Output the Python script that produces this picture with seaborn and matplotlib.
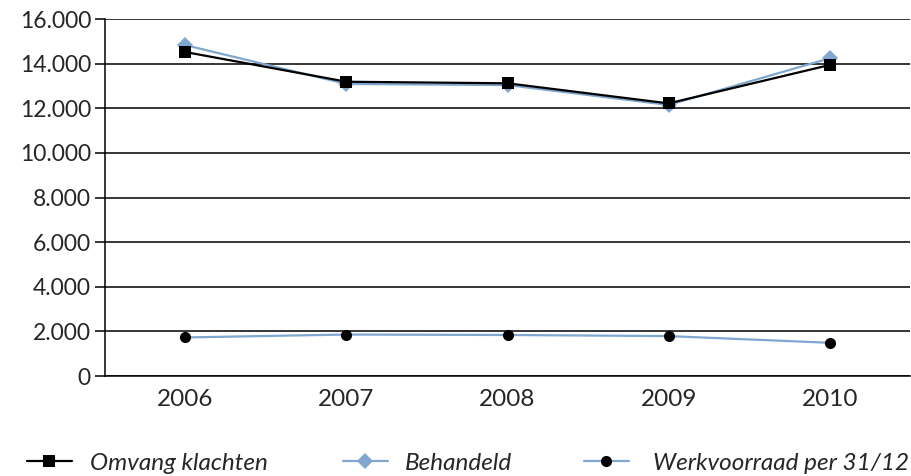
import matplotlib
matplotlib.use("Agg")
import matplotlib.pyplot as plt
import seaborn as sns
import pandas as pd
from matplotlib.ticker import FixedLocator, FuncFormatter

years = ["2006", "2007", "2008", "2009", "2010"]
omvang_klachten = [14520, 13190, 13120, 12220, 13940]
behandeld = [14830, 13090, 13040, 12150, 14240]
werkvoorraad = [1730, 1860, 1840, 1790, 1490]

series_names = ["Omvang klachten", "Behandeld", "Werkvoorraad per 31/12"]
y_ticks = [0, 2000, 4000, 6000, 8000, 10000, 12000, 14000, 16000]

sns.set_theme(style="white")
plt.rcParams["font.family"] = ["Lato", "DejaVu Sans"]

blue = "#7fa7cf"

fig = plt.figure(figsize=(9.12, 4.76), dpi=100)
ax = fig.add_axes([0.115, 0.21, 0.883, 0.75])

pos = list(range(len(years)))
df_o = pd.DataFrame({"x": pos, "y": omvang_klachten})
df_b = pd.DataFrame({"x": pos, "y": behandeld})
df_w = pd.DataFrame({"x": pos, "y": werkvoorraad})

sns.lineplot(data=df_b, x="x", y="y", ax=ax, color=blue, linewidth=1.6,
             marker="D", markersize=8, markeredgewidth=0, markerfacecolor=blue,
             label=series_names[1], zorder=3)
sns.lineplot(data=df_o, x="x", y="y", ax=ax, color="black", linewidth=1.6,
             marker="s", markersize=9, markeredgewidth=0, markerfacecolor="black",
             label=series_names[0], zorder=4)
sns.lineplot(data=df_w, x="x", y="y", ax=ax, color=blue, linewidth=1.6,
             marker="o", markersize=8, markeredgewidth=0, markerfacecolor="black",
             label=series_names[2], zorder=4)

ax.set_xlim(-0.5, len(years) - 0.5)
ax.set_ylim(0, 16000)
ax.set_xlabel("")
ax.set_ylabel("")

ax.yaxis.set_major_locator(FixedLocator(y_ticks))
ax.yaxis.set_major_formatter(FuncFormatter(lambda v, p: f"{int(v):,}".replace(",", ".")))
ax.grid(axis="y", color="black", linewidth=1.1)
ax.set_axisbelow(True)

ax.set_xticks(pos)
ax.set_xticklabels(years)
ax.set_xticks([p - 0.5 for p in pos] + [len(years) - 0.5], minor=True)
ax.tick_params(axis="x", which="major", length=0, pad=9, labelsize=17.5)
ax.tick_params(axis="x", which="minor", length=7, width=1.1, color="black", direction="out")
ax.tick_params(axis="y", which="major", length=7, width=1.1, color="black",
               direction="out", pad=3, labelsize=16.5, left=True)

for side in ["top", "right"]:
    ax.spines[side].set_visible(False)
for side in ["left", "bottom"]:
    ax.spines[side].set_color("black")
    ax.spines[side].set_linewidth(1.1)

ax.get_legend().remove()
handles, labels = ax.get_legend_handles_labels()
legend_x = [27 / 912, 343 / 912, 584 / 912]
pads = [0.75, 0.7, 1.0]
for name, lx, pad in zip(series_names, legend_x, pads):
    i = labels.index(name)
    fig.legend([handles[i]], [labels[i]], loc="center left",
               bbox_to_anchor=(lx, 0.027), frameon=False,
               prop={"style": "italic", "size": 17.5}, handlelength=1.85,
               handletextpad=pad, borderpad=0, borderaxespad=0)

fig.savefig("out.png", dpi=100, facecolor="white")
